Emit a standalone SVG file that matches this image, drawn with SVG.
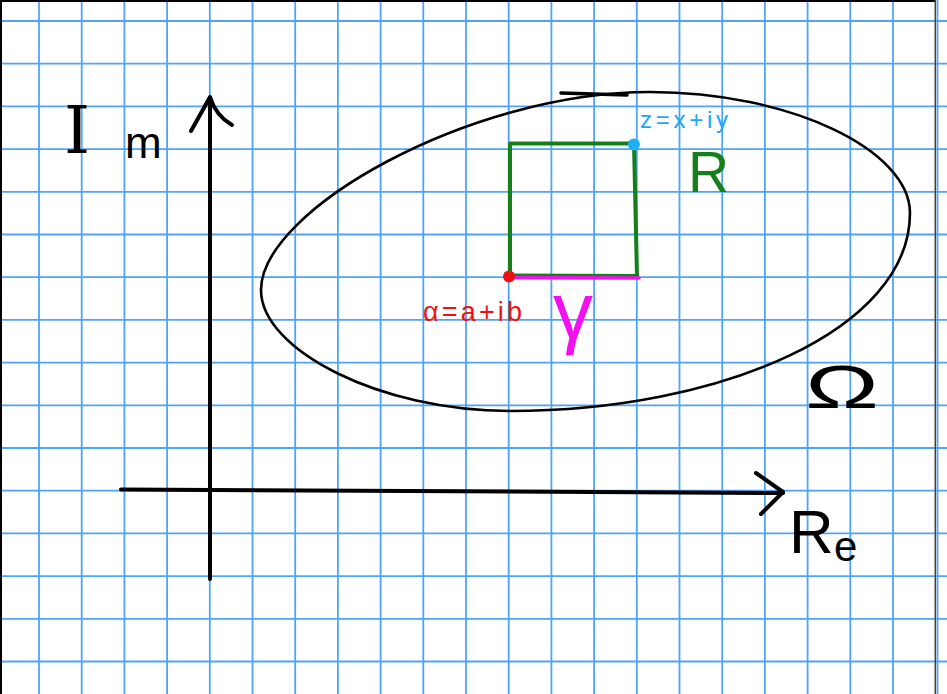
<svg xmlns="http://www.w3.org/2000/svg" width="947" height="694" viewBox="0 0 947 694">
<style>
.grid line{stroke:#4ea4fb;stroke-width:1.8}
.ink{fill:none;stroke:#000;stroke-linecap:round;stroke-linejoin:round}
.lbl{font-family:"Liberation Sans",Arial,sans-serif}
</style>
<rect width="947" height="694" fill="#fff"/>
<g id="grid" class="grid">
<line x1="39" y1="0" x2="39" y2="694"/><line x1="81.7" y1="0" x2="81.7" y2="694"/><line x1="124.4" y1="0" x2="124.4" y2="694"/><line x1="167.1" y1="0" x2="167.1" y2="694"/><line x1="209.8" y1="0" x2="209.8" y2="694"/><line x1="252.5" y1="0" x2="252.5" y2="694"/><line x1="295.2" y1="0" x2="295.2" y2="694"/><line x1="337.9" y1="0" x2="337.9" y2="694"/><line x1="380.6" y1="0" x2="380.6" y2="694"/><line x1="423.3" y1="0" x2="423.3" y2="694"/><line x1="466" y1="0" x2="466" y2="694"/><line x1="508.7" y1="0" x2="508.7" y2="694"/><line x1="551.4" y1="0" x2="551.4" y2="694"/><line x1="594.1" y1="0" x2="594.1" y2="694"/><line x1="636.8" y1="0" x2="636.8" y2="694"/><line x1="679.5" y1="0" x2="679.5" y2="694"/><line x1="722.2" y1="0" x2="722.2" y2="694"/><line x1="764.9" y1="0" x2="764.9" y2="694"/><line x1="807.6" y1="0" x2="807.6" y2="694"/><line x1="850.3" y1="0" x2="850.3" y2="694"/><line x1="893" y1="0" x2="893" y2="694"/><line x1="937.5" y1="0" x2="937.5" y2="694"/>
<line x1="0" y1="21" x2="947" y2="21"/><line x1="0" y1="63.7" x2="947" y2="63.7"/><line x1="0" y1="106.4" x2="947" y2="106.4"/><line x1="0" y1="149.1" x2="947" y2="149.1"/><line x1="0" y1="191.8" x2="947" y2="191.8"/><line x1="0" y1="234.5" x2="947" y2="234.5"/><line x1="0" y1="277.2" x2="947" y2="277.2"/><line x1="0" y1="319.9" x2="947" y2="319.9"/><line x1="0" y1="362.6" x2="947" y2="362.6"/><line x1="0" y1="405.3" x2="947" y2="405.3"/><line x1="0" y1="448" x2="947" y2="448"/><line x1="0" y1="490.7" x2="947" y2="490.7"/><line x1="0" y1="533.4" x2="947" y2="533.4"/><line x1="0" y1="576.1" x2="947" y2="576.1"/><line x1="0" y1="618.8" x2="947" y2="618.8"/><line x1="0" y1="661.5" x2="947" y2="661.5"/>
</g>
<g id="border">
<line x1="1" y1="0" x2="1" y2="694" stroke="#000" stroke-width="2"/>
<line x1="0" y1="1" x2="935" y2="1" stroke="#000" stroke-width="2"/>
<line x1="935.3" y1="0" x2="935.3" y2="694" stroke="#5a3a22" stroke-width="1.5"/>
</g>
<g id="axes" class="ink">
<path d="M210,98 L210,579" stroke-width="4"/>
<path d="M191,131 L210,97 Q216,116 232,125" stroke-width="4"/>
<path d="M121,489.5 L783,493" stroke-width="4"/>
<path d="M756,473 L783,492 L761,514" stroke-width="4"/>
</g>
<g id="omega-region" class="ink">
<path d="M261,290 C261,350 380,411 510,411 C720,411 910,330 910,213 C910,150 790,92 650,92 C470,92 261,210 261,290 Z" stroke-width="2.6"/>
<path d="M561,93 L627,95" stroke-width="3.5"/>
</g>
<g id="rectangle-R">
<path d="M510,276 L510,143.5 L634,143.5 L637,277" fill="none" stroke="#15801a" stroke-width="4" stroke-linejoin="round"/>
<line x1="510" y1="275" x2="637" y2="275.5" stroke="#15801a" stroke-width="3"/>
</g>
<g id="path-gamma">
<line x1="510" y1="277.5" x2="639" y2="278" stroke="#f40ff0" stroke-width="3.6" stroke-linecap="round"/>
</g>
<g id="points">
<circle cx="509" cy="276.5" r="6" fill="#ee1111"/>
<circle cx="634" cy="144.5" r="6" fill="#1ab1f5"/>
</g>
<g id="labels" class="lbl">
<text x="64" y="153" font-family="DejaVu Serif,serif" font-size="66" fill="#000"><tspan>I</tspan><tspan x="125" font-family="Liberation Sans,sans-serif" font-size="44" dy="5">m</tspan></text>
<text x="789" y="553" font-size="62" fill="#000"><tspan>R</tspan><tspan x="834" font-size="42" dy="8">e</tspan></text>
<text x="805" y="408" font-size="62" fill="#000" textLength="74" lengthAdjust="spacingAndGlyphs">Ω</text>
<text x="640" y="128" font-size="24" fill="#1aa9f2" textLength="88">z=x+iy</text>
<text x="688" y="192" font-size="57" fill="#15801a">R</text>
<text x="423" y="321" font-size="27" fill="#ee1111" textLength="99">α=a+ib</text>
<text x="553" y="338" font-size="80" fill="#f40ff0">γ</text>
</g>
</svg>
